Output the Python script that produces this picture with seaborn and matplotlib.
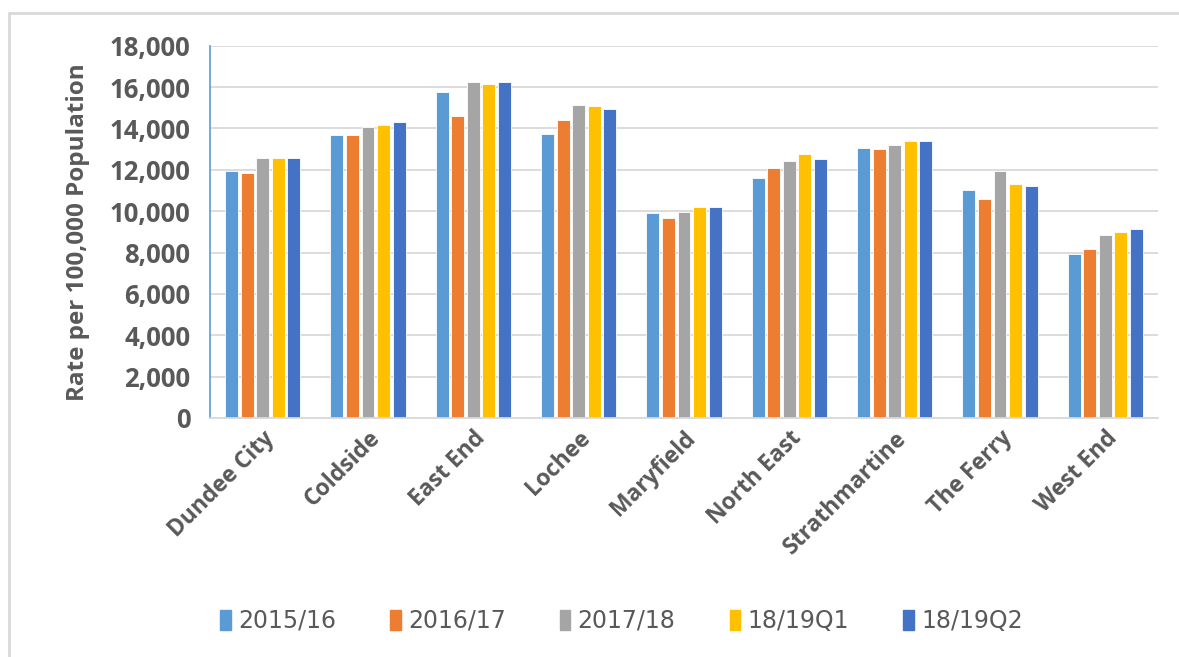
import numpy as np
import pandas as pd
import matplotlib
matplotlib.use("Agg")
import matplotlib.pyplot as plt
from matplotlib.ticker import MultipleLocator, FuncFormatter
from matplotlib.lines import Line2D
from matplotlib.patches import Patch
import seaborn as sns

# Values
areas = ["Dundee City", "Coldside", "East End", "Lochee", "Maryfield",
         "North East", "Strathmartine", "The Ferry", "West End"]
periods = ["2015/16", "2016/17", "2017/18", "18/19Q1", "18/19Q2"]
rate_1516 = [11920, 13670, 15780, 13750, 9900, 11580, 13040, 11010, 7940]
rate_1617 = [11850, 13670, 14590, 14400, 9690, 12080, 13000, 10600, 8150]
rate_1718 = [12560, 14090, 16260, 15150, 9970, 12420, 13190, 11930, 8840]
rate_q1 = [12560, 14150, 16140, 15070, 10180, 12770, 13400, 11300, 8990]
rate_q2 = [12560, 14300, 16260, 14930, 10180, 12500, 13400, 11240, 9130]
colors = ["#5B9BD5", "#ED7D31", "#A5A5A5", "#FFC000", "#4472C4"]

df = pd.DataFrame({"area": areas, periods[0]: rate_1516, periods[1]: rate_1617,
                   periods[2]: rate_1718, periods[3]: rate_q1, periods[4]: rate_q2})
long = df.melt(id_vars="area", var_name="period", value_name="rate")

sns.set_style("white")
plt.rcParams["font.family"] = ["Open Sans", "DejaVu Sans"]
txt = "#595959"

fig = plt.figure(figsize=(11.79, 6.57), dpi=100)
ax = fig.add_axes([210 / 1179, 1 - 418 / 657, 948 / 1179, (418 - 45.7) / 657])

sns.barplot(data=long, x="area", y="rate", hue="period", hue_order=periods,
            palette=colors, saturation=1, width=0.74, gap=0.17, ax=ax,
            legend=False, edgecolor="white", linewidth=0.6)

ax.set_ylim(0, 18000)
ax.set_xlim(-0.5, len(areas) - 0.5)
ax.yaxis.set_major_locator(MultipleLocator(2000))
ax.yaxis.set_minor_locator(MultipleLocator(500))
ax.yaxis.set_major_formatter(FuncFormatter(lambda v, p: f"{int(v):,}"))
ax.grid(axis="y", color="#D9D9D9", linewidth=1.3)
ax.set_axisbelow(True)

for s in ["top", "right"]:
    ax.spines[s].set_visible(False)
ax.spines["left"].set_color("#5B9BD5")
ax.spines["left"].set_linewidth(1.2)
ax.spines["bottom"].set_color("#D9D9D9")
ax.spines["bottom"].set_linewidth(1.3)

ax.tick_params(axis="y", which="major", direction="inout", length=8, width=1,
               color="#5B9BD5", labelsize=18.5, labelcolor=txt, pad=10)
ax.tick_params(axis="y", which="minor", direction="out", length=5, width=1,
               color="#5B9BD5")
ax.tick_params(axis="x", length=0, labelsize=16.5, labelcolor=txt, pad=6)
for lab in ax.get_yticklabels():
    lab.set_fontweight("bold")
plt.setp(ax.get_xticklabels(), rotation=45, ha="right", rotation_mode="anchor",
         fontweight="bold")

ax.set_xlabel("")
ax.set_ylabel("Rate per 100,000 Population", fontsize=17.5, fontweight="bold",
              color=txt, labelpad=14)

handles = [Patch(facecolor=c, edgecolor=c) for c in colors]
fig.legend(handles, periods, loc="center", bbox_to_anchor=(0.527, 1 - 621 / 657),
           ncol=5, frameon=False,
           prop={"family": ["Liberation Sans Narrow", "DejaVu Sans"], "size": 17},
           labelcolor=txt, handlelength=0.45, handleheight=0.9,
           handletextpad=0.3, columnspacing=2.3)

# light frame around the chart
fig.add_artist(Line2D([9 / 1179, 1], [1 - 13 / 657, 1 - 13 / 657],
                      transform=fig.transFigure, color="#D9D9D9", linewidth=2))
fig.add_artist(Line2D([9 / 1179, 9 / 1179], [0, 1 - 13 / 657],
                      transform=fig.transFigure, color="#D9D9D9", linewidth=2))

fig.savefig("out.png", dpi=100)
